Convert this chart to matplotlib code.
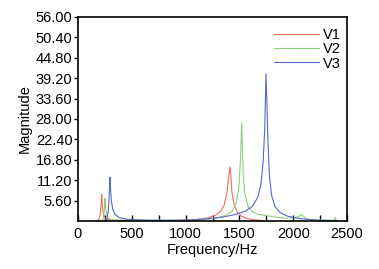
import numpy as np
import matplotlib.pyplot as plt

plt.rcParams['font.family'] = ['Liberation Sans', 'DejaVu Sans']

# values (frequency in Hz, magnitude)
v1_freq = [150, 190, 205, 215, 220, 225, 232, 245, 270, 320, 500, 800, 1000, 1100, 1200,
           1280, 1330, 1360, 1385, 1400, 1413, 1420, 1430, 1450, 1480, 1520, 1580, 1650, 1720]
v1_mag = [0.0, 0.2, 1.5, 4.5, 7.3, 5.0, 2.5, 1.0, 0.4, 0.2, 0.1, 0.1, 0.2, 0.4, 0.8,
          1.6, 2.8, 4.5, 8.0, 12.0, 14.8, 12.5, 8.0, 4.5, 2.5, 1.3, 0.6, 0.3, 0.1]

v2_freq = [200, 230, 240, 247, 251, 256, 265, 280, 320, 500, 800, 1000, 1200, 1300, 1380,
           1430, 1470, 1495, 1510, 1521, 1527, 1535, 1550, 1580, 1620, 1680, 1750, 1850,
           1950, 2030, 2060, 2080, 2095, 2120, 2180, 2300, 2380, 2390, 2400]
v2_mag = [0.0, 0.3, 1.5, 4.0, 6.2, 4.0, 2.0, 0.8, 0.3, 0.2, 0.2, 0.2, 0.5, 0.9, 1.6,
          2.6, 5.0, 9.0, 17.0, 27.0, 21.0, 13.0, 7.5, 4.0, 2.6, 1.8, 1.5, 1.0,
          0.8, 1.0, 1.4, 1.8, 1.3, 0.6, 0.3, 0.2, 0.2, 1.0, 0.1]

v3_freq = [250, 270, 282, 290, 297, 302, 310, 325, 345, 380, 450, 550, 700, 900, 1050,
           1200, 1350, 1450, 1550, 1620, 1670, 1700, 1720, 1735, 1747, 1755, 1765, 1780,
           1800, 1830, 1880, 1950, 2050, 2150, 2250, 2400]
v3_mag = [0.0, 0.5, 3.0, 7.0, 12.0, 9.0, 5.5, 3.0, 1.8, 1.0, 0.5, 0.3, 0.2, 0.2, 0.3,
          0.6, 1.1, 1.7, 2.6, 4.0, 6.5, 10.0, 16.0, 25.0, 40.4, 33.0, 22.0, 12.0,
          7.0, 4.0, 2.3, 1.3, 0.7, 0.4, 0.2, 0.1]

fs = 10.5

fig = plt.figure(figsize=(3.79, 2.69), dpi=100)
ax = fig.add_axes([78 / 379, 1 - 221 / 269, 269 / 379, 204 / 269])

ax.plot(v1_freq, v1_mag, color='#ee6f5c', lw=0.8, label='V1')
ax.plot(v2_freq, v2_mag, color='#8fd07c', lw=0.8, label='V2')
ax.plot(v3_freq, v3_mag, color='#5868c8', lw=0.8, label='V3')

ax.set_xlim(0, 2500)
ax.set_ylim(0, 56)
ax.set_xticks(np.arange(0, 2501, 500))
ax.set_xticks(np.arange(0, 2501, 250), minor=True)
yt = np.arange(1, 11) * 5.6
ax.set_yticks(yt)
ax.set_yticklabels(['%.2f' % v for v in yt])
ax.tick_params(axis='x', which='both', direction='in', length=4, width=1, labelsize=fs, pad=4)
ax.tick_params(axis='y', direction='out', length=3, width=1, labelsize=fs, pad=1)
for s in ax.spines.values():
    s.set_linewidth(1.2)

ax.set_xlabel('Frequency/Hz', fontsize=fs, labelpad=2)
ax.set_ylabel('Magnitude', fontsize=fs, labelpad=3)

ax.legend(loc='upper right', frameon=False, fontsize=fs, handlelength=3.1,
          handletextpad=0.3, labelspacing=0.02, borderaxespad=0.0,
          bbox_to_anchor=(1.0, 0.975))

fig.savefig('out.png', dpi=100)
